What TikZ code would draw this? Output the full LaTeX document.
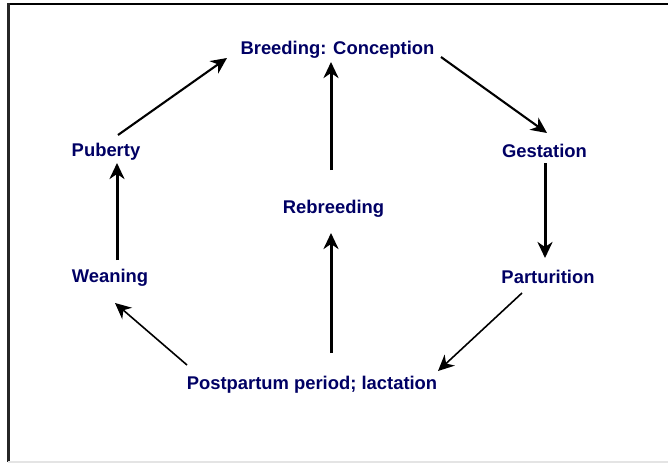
\documentclass[tikz,border=0pt]{standalone}
\usepackage{fontspec}
\setmainfont{Liberation Sans}
\usetikzlibrary{arrows.meta}
\definecolor{navy}{RGB}{0,0,100}
\definecolor{framegray}{RGB}{228,228,228}
\tikzset{
  lbl/.style={anchor=base, inner sep=0pt, text=navy, font=\fontsize{18.4}{20}\selectfont\bfseries},
  arr/.style={-{Stealth[length=16pt,width=15pt,inset=5pt]}, black},
  thick3/.style={arr, line width=3pt},
  mid2/.style={arr, line width=2.1pt},
  thin1/.style={arr, line width=1.6pt}
}
\begin{document}
\begin{tikzpicture}[x=1pt,y=-1pt]
\useasboundingbox (0,0) rectangle (668,463);
% frame
\draw[line width=2pt, black] (7,3.7) -- (668,3.7);
\draw[line width=2.2pt, black!85] (8.5,3) -- (8.5,462);
\draw[line width=1.5pt, framegray] (8,462) -- (668,462);
% labels
\node[lbl] (bc)   at (337.5,54)  {Breeding: Conception};
\node[lbl] (ges)  at (544.5,157) {Gestation};
\node[lbl] (par)  at (548,283)   {Parturition};
\node[lbl] (post) at (312,389)   {Postpartum period; lactation};
\node[lbl] (wean) at (110,282)   {Weaning};
\node[lbl] (pub)  at (106,156)   {Puberty};
\node[lbl] (reb)  at (333.5,213) {Rebreeding};
% arrows
\draw[mid2]   ([shift={(12,-21)}]pub.base)   -- ([shift={(-110.5,4)}]bc.base);
\draw[mid2]   ([shift={(103.5,3)}]bc.base)   -- ([shift={(2.5,-24)}]ges.base);
\draw[thick3] ([shift={(0.5,6)}]ges.base)    -- ([shift={(-3,-25)}]par.base);
\draw[thin1]  ([shift={(-26,10)}]par.base)   -- ([shift={(126,-18)}]post.base);
\draw[thin1]  ([shift={(-125,-24)}]post.base) -- ([shift={(5,21)}]wean.base);
\draw[thick3] ([shift={(7,-22)}]wean.base)   -- ([shift={(11,7)}]pub.base);
\draw[thick3] ([shift={(19,-36)}]post.base)  -- ([shift={(-2.5,20)}]reb.base);
\draw[thick3] ([shift={(-2.5,-43)}]reb.base) -- ([shift={(-6.5,8)}]bc.base);
\end{tikzpicture}
\end{document}
